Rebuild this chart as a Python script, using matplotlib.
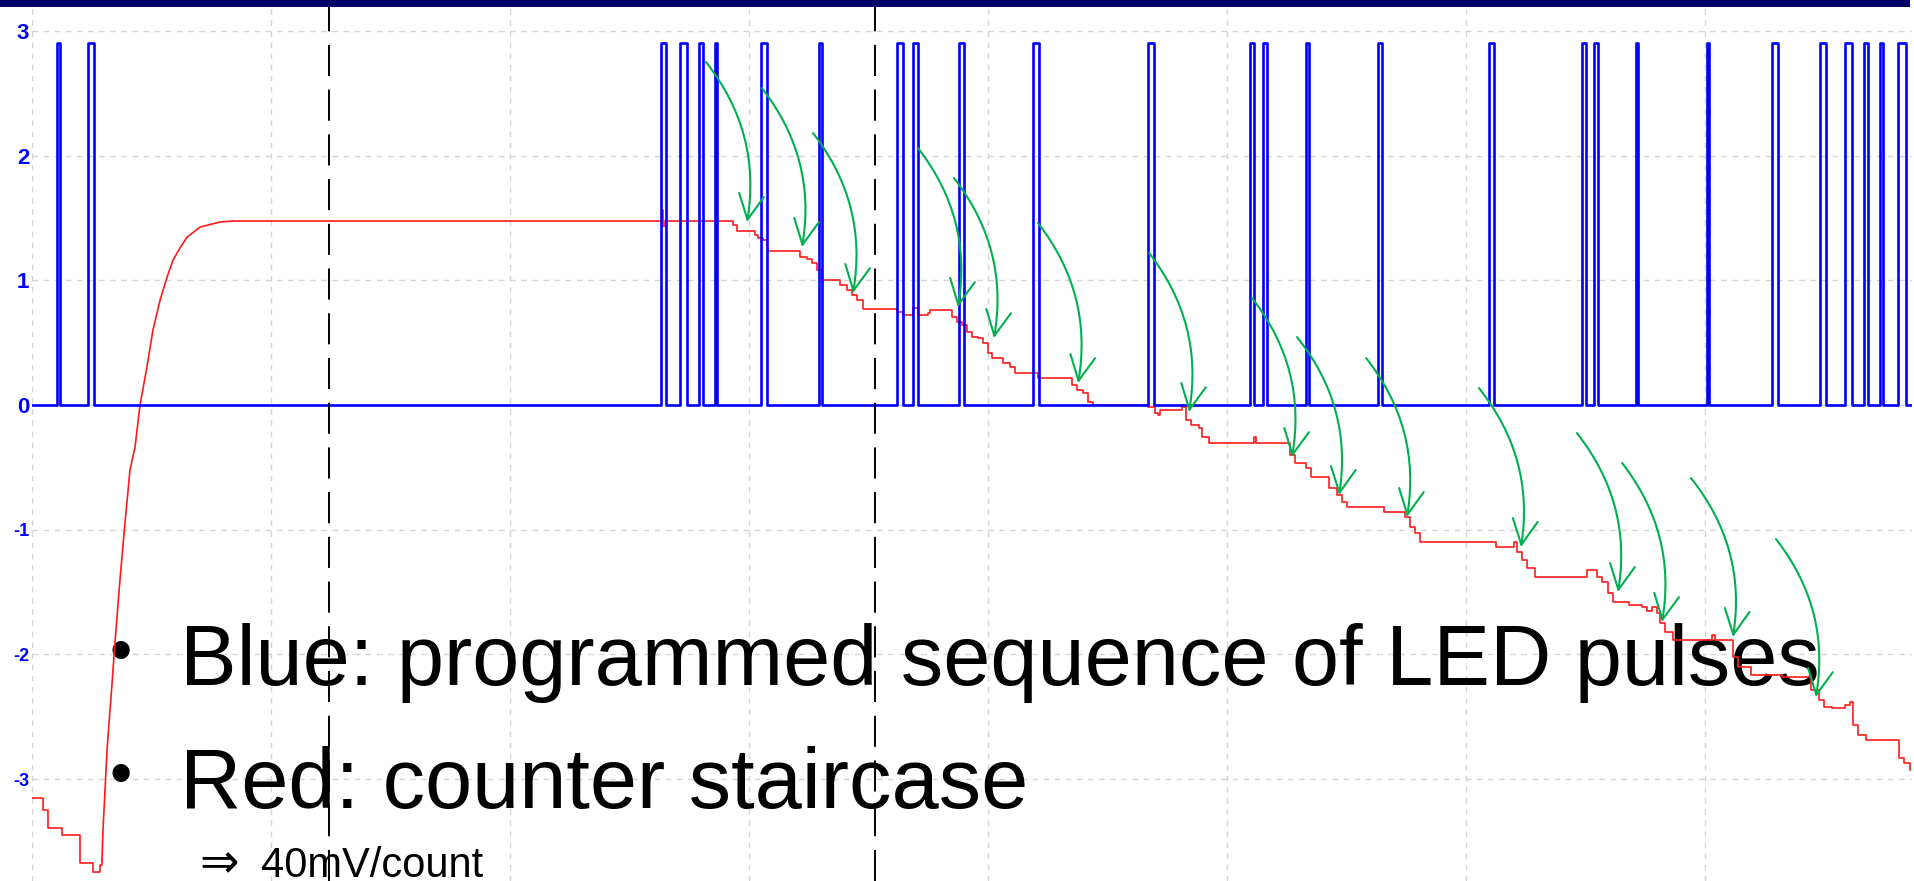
import numpy as np
import matplotlib
matplotlib.use("Agg")
import matplotlib.pyplot as plt
from matplotlib.patches import FancyArrowPatch, Rectangle

# scope screen: x in divisions, y in volts
x_max = 7.866
y_lim = (-3.817, 3.192)
pulse_height = 2.9

# LED pulses (start, end) in divisions
pulse_start = [0.105, 0.234, 2.632, 2.711, 2.791, 2.858, 3.050, 3.293, 3.619, 3.686,
               3.879, 4.188, 4.669, 5.096, 5.151, 5.331, 5.632, 6.096, 6.485, 6.536,
               6.711, 7.008, 7.280, 7.481, 7.586, 7.665, 7.732, 7.808]
pulse_end = [0.117, 0.259, 2.653, 2.741, 2.808, 2.866, 3.075, 3.305, 3.644, 3.707,
             3.900, 4.213, 4.695, 5.113, 5.167, 5.343, 5.649, 6.117, 6.502, 6.552,
             6.720, 7.017, 7.305, 7.506, 7.615, 7.682, 7.745, 7.841]

# counter staircase
red_t = [0.000, 0.033, 0.046, 0.067, 0.109, 0.126, 0.167, 0.201, 0.243, 0.255,
         0.285, 0.293, 0.297, 0.314, 0.335, 0.347, 0.368, 0.389, 0.410, 0.431,
         0.452, 0.481, 0.506, 0.536, 0.565, 0.590, 0.619, 0.649, 0.703, 0.787,
         0.841, 2.632, 2.636, 2.640, 2.649,
         2.921, 2.933, 2.950, 3.013, 3.025, 3.038, 3.059, 3.075, 3.079, 3.201,
         3.213, 3.243, 3.264, 3.285, 3.305, 3.368, 3.381, 3.410, 3.431, 3.452,
         3.477, 3.603, 3.619, 3.644, 3.682, 3.686, 3.707, 3.749, 3.757, 3.833,
         3.849, 3.870, 3.891, 3.912, 3.933, 3.958, 3.979, 4.000, 4.017, 4.042,
         4.063, 4.092, 4.113, 4.188, 4.209, 4.331, 4.351, 4.372, 4.397, 4.418,
         4.439, 4.669, 4.699, 4.711, 4.720, 4.812, 4.828, 4.849, 4.883, 4.895,
         4.925, 5.100, 5.113, 5.121, 5.230, 5.264, 5.285, 5.331, 5.351, 5.418,
         5.427, 5.460, 5.481, 5.502, 5.644, 5.657, 5.732, 5.745, 5.766, 5.787,
         5.808, 6.105, 6.126, 6.201, 6.213, 6.234, 6.255, 6.289, 6.494, 6.506,
         6.548, 6.569, 6.594, 6.615, 6.669, 6.682, 6.736, 6.757, 6.778, 6.799,
         6.812, 6.833, 6.866, 7.017, 7.029, 7.042, 7.096, 7.117, 7.138, 7.192,
         7.301, 7.322, 7.423, 7.444, 7.477, 7.498, 7.531, 7.586, 7.607, 7.619,
         7.640, 7.674, 7.791, 7.812, 7.833, 7.858]
red_v = [-3.152, -3.152, -3.248, -3.392, -3.392, -3.448, -3.448, -3.673, -3.673, -3.745,
         -3.689, -3.649, -3.408, -2.767, -2.229, -1.909, -1.404, -0.946, -0.521, -0.337,
         0.000, 0.305, 0.601, 0.842, 1.026, 1.163, 1.259, 1.347, 1.427, 1.468,
         1.476, 1.476, 1.564, 1.435, 1.476,
         1.476, 1.443, 1.395, 1.395, 1.363, 1.339, 1.323, 1.259, 1.235, 1.235,
         1.187, 1.171, 1.139, 1.083, 1.002, 1.002, 0.962, 0.922, 0.882, 0.842,
         0.770, 0.770, 0.746, 0.722, 0.722, 0.778, 0.722, 0.738, 0.762, 0.762,
         0.706, 0.666, 0.642, 0.585, 0.545, 0.537, 0.497, 0.417, 0.377, 0.377,
         0.337, 0.305, 0.257, 0.257, 0.217, 0.217, 0.160, 0.120, 0.096, 0.024,
         0.000, -0.016, -0.064, -0.080, -0.040, -0.016, -0.120, -0.160, -0.184, -0.257,
         -0.305, -0.305, -0.257, -0.305, -0.305, -0.401, -0.465, -0.505, -0.577, -0.577,
         -0.666, -0.722, -0.778, -0.818, -0.818, -0.858, -0.858, -0.898, -0.978, -1.026,
         -1.099, -1.099, -1.139, -1.099, -1.179, -1.243, -1.307, -1.379, -1.379, -1.323,
         -1.379, -1.419, -1.508, -1.580, -1.580, -1.604, -1.620, -1.652, -1.620, -1.668,
         -1.748, -1.820, -1.885, -1.885, -1.844, -1.885, -1.885, -2.021, -2.101, -2.165,
         -2.165, -2.181, -2.181, -2.285, -2.366, -2.422, -2.430, -2.406, -2.382, -2.566,
         -2.646, -2.686, -2.686, -2.831, -2.871, -2.927]
# the fast charge-up ramp is drawn smooth, the counting part as steps
ramp_first, ramp_last = 11, 30

# green arrows: pulse -> step
arrow_from = [(2.820, 2.751), (3.054, 2.542), (3.268, 2.181), (3.707, 2.061), (3.858, 1.820),
              (4.209, 1.460), (4.674, 1.219), (5.105, 0.858), (5.293, 0.545), (5.582, 0.377),
              (6.054, 0.136), (6.464, -0.225), (6.653, -0.465), (6.941, -0.585), (7.297, -1.075)]
arrow_to = [(2.992, 1.468), (3.222, 1.267), (3.435, 0.898), (3.874, 0.786), (4.025, 0.537),
            (4.377, 0.176), (4.841, -0.056), (5.272, -0.417), (5.469, -0.722), (5.753, -0.898),
            (6.230, -1.139), (6.636, -1.500), (6.820, -1.740), (7.117, -1.860), (7.464, -2.342)]

cursor_x = [1.243, 3.527]
ytick_vals = [3, 2, 1, 0, -1, -2, -3]
ytick_labels = ["3", "2", "1", "0", "-1", "-2", "-3"]

# build the blue step trace
blue_t = [0.0]
blue_v = [0.0]
for s, e in zip(pulse_start, pulse_end):
    blue_t += [s, s, e, e]
    blue_v += [0.0, pulse_height, pulse_height, 0.0]
blue_t.append(x_max)
blue_v.append(0.0)

fig = plt.figure(figsize=(19.14, 8.81), dpi=100)
ax = fig.add_axes([32 / 1914, 0, 1880 / 1914, 874 / 881])
ax.set_xlim(0, x_max)
ax.set_ylim(*y_lim)
for s in ax.spines.values():
    s.set_visible(False)

ax.set_xticks(range(0, 8))
ax.set_xticklabels([])
ax.set_yticks(ytick_vals)
ax.set_yticklabels(ytick_labels)
ax.tick_params(length=0, pad=2)
for lab, v in zip(ax.get_yticklabels(), ytick_vals):
    lab.set_color("#0000ff")
    lab.set_fontweight("bold")
    lab.set_family(["Liberation Sans", "DejaVu Sans"])
    lab.set_fontsize(16 if v >= 0 else 13)
ax.grid(True, color="#d4d4d4", linestyle=(0, (4, 4)), linewidth=1.0)
ax.set_axisbelow(True)

red_kw = dict(color="#ff1a1a", linewidth=1.2, zorder=3)
ax.plot(red_t[:ramp_first + 1], red_v[:ramp_first + 1], drawstyle="steps-post", **red_kw)
ax.plot(red_t[ramp_first:ramp_last + 1], red_v[ramp_first:ramp_last + 1], **red_kw)
ax.plot(red_t[ramp_last:], red_v[ramp_last:], drawstyle="steps-post", **red_kw)
ax.plot(blue_t, blue_v, color="#0000ff", linewidth=1.9, zorder=4)

for cx in cursor_x:
    ax.axvline(cx, color="black", linewidth=1.4, linestyle=(0, (16, 7)), zorder=5)

for p0, p1 in zip(arrow_from, arrow_to):
    arr = FancyArrowPatch(p0, p1, connectionstyle="arc3,rad=-0.22",
                          arrowstyle="->,head_length=0.9,head_width=0.45",
                          mutation_scale=20, color="#00b050", linewidth=1.5,
                          shrinkA=0, shrinkB=0, zorder=6)
    ax.add_patch(arr)

# slide text
txt_font = ["Liberation Sans", "DejaVu Sans"]
ax.text(121 / 1914, (881 - 655) / 881, "\u2022", transform=fig.transFigure,
        fontsize=46, family=txt_font, ha="center", va="center", zorder=2)
ax.text(180 / 1914, (881 - 685) / 881, "Blue: programmed sequence of LED pulses",
        transform=fig.transFigure, fontsize=61, family=txt_font, ha="left",
        va="baseline", zorder=2)
ax.text(121 / 1914, (881 - 778) / 881, "\u2022", transform=fig.transFigure,
        fontsize=46, family=txt_font, ha="center", va="center", zorder=2)
ax.text(180 / 1914, (881 - 808) / 881, "Red: counter staircase",
        transform=fig.transFigure, fontsize=61, family=txt_font, ha="left",
        va="baseline", zorder=2)
ax.text(199 / 1914, (881 - 877) / 881, "\u21d2", transform=fig.transFigure,
        fontsize=34, family=["DejaVu Sans"], ha="left", va="baseline", zorder=2)
ax.text(261 / 1914, (881 - 877) / 881, "40mV/count", transform=fig.transFigure,
        fontsize=30, family=txt_font, ha="left", va="baseline", zorder=2)

# navy title bar strip at the top
fig.add_artist(Rectangle((0, 874 / 881), 1910 / 1914, 7 / 881, transform=fig.transFigure,
                         facecolor="#000066", edgecolor="none"))

fig.savefig("out.png", dpi=100)
